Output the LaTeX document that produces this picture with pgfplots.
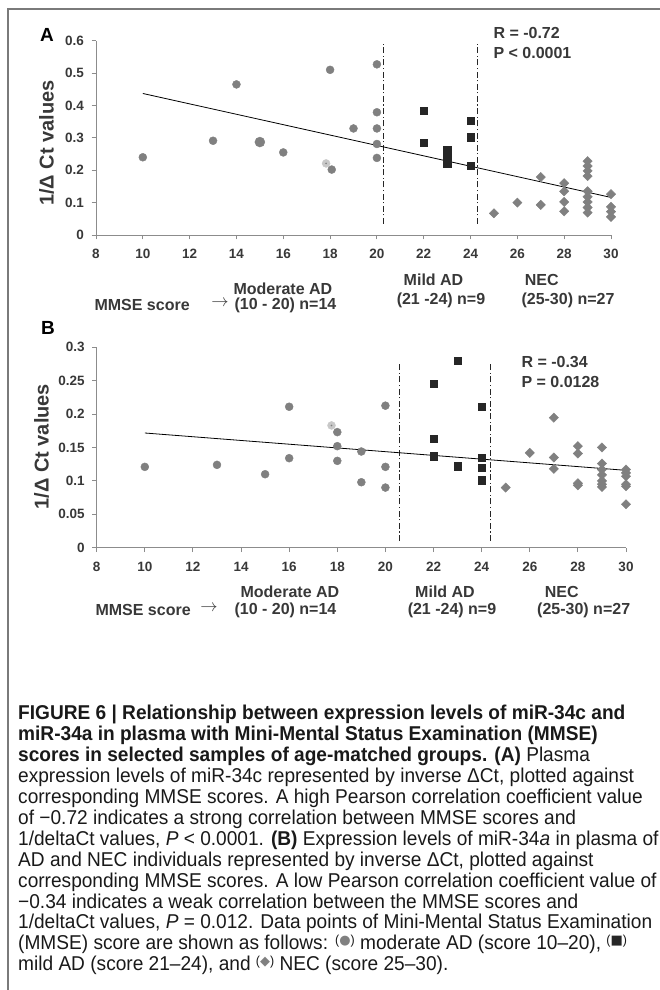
\documentclass[border=0pt]{standalone}
\usepackage{pgfplots}
\pgfplotsset{compat=1.18}
\usepackage{fontspec}
\setmainfont{Liberation Sans}
\newfontfamily\symfont{DejaVu Sans}
\newfontfamily\capfont[FakeStretch=0.955]{Liberation Sans}
\definecolor{ptgray}{HTML}{808080}
\definecolor{sqblack}{HTML}{262626}
\definecolor{axgray}{HTML}{8C8C8C}
\definecolor{txt}{HTML}{383838}
\definecolor{lightpt}{HTML}{C8C8C8}
\definecolor{framegray}{HTML}{7A7A7A}
\pgfplotsset{
  myaxis/.style={
    scale only axis, anchor=south west,
    xmin=8, xmax=30, xtick={8,10,...,30},
    axis x line*=bottom, axis y line*=left,
    axis line style={-, axgray, line width=0.9pt},
    tick style={axgray, line width=0.9pt},
    tick align=outside, major tick length=4.5pt,
    tick label style={font=\fontsize{13.5}{14}\selectfont\bfseries, text=txt},
    xticklabel style={yshift=-6pt},
    yticklabel style={xshift=-4pt},
    /pgf/number format/assume math mode=true,
    /pgf/number format/fixed, /pgf/number format/precision=2,
    clip=false,
  },
  circ/.style={only marks, mark=*, mark size=4pt, mark options={fill=ptgray, draw=ptgray}},
  lcirc/.style={only marks, mark=*, mark size=4pt, mark options={fill=lightpt, draw=lightpt}},
  sq/.style={only marks, mark=square*, mark size=3.6pt, mark options={fill=sqblack, draw=sqblack}},
  dia/.style={only marks, mark=square*, mark size=3.3pt, mark options={fill=ptgray, draw=ptgray, rotate=45}},
  trend/.style={black, line width=0.8pt, no marks},
  ddot/.style={black!85, line width=0.9pt, no marks, dash pattern=on 6pt off 2.5pt on 1.2pt off 2.5pt},
}
\newcommand{\lab}{\fontsize{16}{18}\selectfont\bfseries}
\newcommand{\caplinefont}{\capfont\fontsize{20}{22}\selectfont}
\begin{document}
\begin{tikzpicture}
\useasboundingbox (0pt,0pt) rectangle (660pt,990pt);
\draw[framegray, line width=1.5pt] (8pt,0pt) -- (8pt,981pt) -- (662pt,981pt);

% ---------------- Panel A ----------------
\begin{axis}[myaxis, at={(96pt,755pt)}, width=515pt, height=194.3pt,
  ymin=0, ymax=0.6, ytick={0,0.1,0.2,0.3,0.4,0.5,0.6}]
\addplot[ddot] coordinates {(20.29,0.034) (20.29,0.59)};
\addplot[ddot] coordinates {(24.30,0.034) (24.30,0.59)};
\addplot[trend] coordinates {(10,0.437) (30,0.116)};
\addplot[circ] coordinates {(10,0.240) (13,0.291) (14,0.465) (16,0.255) (18.07,0.202) (18,0.510) (19,0.329)
  (20,0.527) (20,0.379) (20,0.329) (20,0.281) (20,0.238)};
\addplot[only marks, mark=*, mark size=5pt, mark options={fill=ptgray, draw=ptgray}] coordinates {(15,0.287)};
\addplot[lcirc] coordinates {(17.83,0.221)};
\addplot[only marks, mark=*, mark size=0.6pt, mark options={fill=ptgray, draw=ptgray}] coordinates {(17.83,0.221)};
\addplot[sq] coordinates {(22,0.383) (22,0.286) (23,0.263) (23,0.249) (23,0.234) (23,0.219)
  (24,0.354) (24,0.302) (24,0.213)};
\addplot[dia] coordinates {(25,0.067) (26,0.100) (27,0.179) (27,0.093)
  (28,0.160) (28,0.135) (28,0.102) (28,0.073)
  (29,0.228) (29,0.213) (29,0.198) (29,0.182)
  (29,0.135) (29,0.118) (29,0.102) (29,0.085) (29,0.069)
  (30,0.126) (30,0.087) (30,0.072) (30,0.056)};
\end{axis}

\node[font=\fontsize{19}{20}\selectfont\bfseries] at (47pt,955pt) {A};
\node[rotate=90, font=\fontsize{20}{22}\selectfont\bfseries, text=txt] at (46.7pt,847pt) {1/Δ Ct values};
\node[anchor=west, font=\lab, text=txt] at (490pt,957pt) {R = -0.72};
\node[anchor=west, font=\lab, text=txt] at (490pt,937pt) {P < 0.0001};
\node[anchor=west, font=\lab, text=txt] at (230pt,701pt) {Moderate AD};
\node[anchor=west, font=\lab, text=txt] at (91pt,685pt) {MMSE score};
\node[font=\fontsize{16}{18}\selectfont, text=txt] at (220pt,687pt) {$\rightarrow$};
\node[anchor=west, font=\lab, text=txt] at (231pt,685pt) {(10 - 20) n=14};
\node[font=\lab, text=txt] at (433.5pt,710pt) {Mild AD};
\node[font=\lab, text=txt] at (441pt,690pt) {(21 -24) n=9};
\node[font=\lab, text=txt] at (541.7pt,710pt) {NEC};
\node[font=\lab, text=txt] at (568pt,690pt) {(25-30) n=27};

% ---------------- Panel B ----------------
\begin{axis}[myaxis, at={(96.7pt,442.3pt)}, width=529.3pt, height=200.4pt,
  ymin=0, ymax=0.3, ytick={0,0.05,0.1,0.15,0.2,0.25,0.3}]
\addplot[ddot] coordinates {(20.58,0.010) (20.58,0.2775)};
\addplot[ddot] coordinates {(24.37,0.010) (24.37,0.2775)};
\addplot[trend] coordinates {(10,0.1717) (30,0.1158)};
\addplot[circ] coordinates {(10,0.121) (13,0.124) (15,0.110) (16,0.211) (16,0.134)
  (18,0.173) (18,0.152) (18,0.130) (19,0.144) (19,0.098)
  (20,0.2126) (20,0.121) (20,0.090)};
\addplot[lcirc] coordinates {(17.76,0.183)};
\addplot[only marks, mark=*, mark size=0.6pt, mark options={fill=ptgray, draw=ptgray}] coordinates {(17.76,0.183)};
\addplot[sq] coordinates {(23,0.2805) (22,0.245) (22,0.1627) (22,0.137) (23,0.122)
  (24,0.2116) (24,0.135) (24,0.120) (24,0.101)};
\addplot[dia] coordinates {(25,0.090) (26,0.142) (27,0.1947) (27,0.135) (27,0.118)
  (28,0.152) (28,0.141) (28,0.0964) (28,0.0934)
  (29,0.150) (29,0.126) (29,0.117) (29,0.109) (29,0.100) (29,0.095) (29,0.091)
  (30,0.117) (30,0.112) (30,0.107) (30,0.095) (30,0.092) (30,0.065)};
\end{axis}

\node[font=\fontsize{19}{20}\selectfont\bfseries] at (48pt,662pt) {B};
\node[rotate=90, font=\fontsize{20}{22}\selectfont\bfseries, text=txt] at (41.7pt,543.3pt) {1/Δ Ct values};
\node[anchor=west, font=\lab, text=txt] at (518pt,628.3pt) {R = -0.34};
\node[anchor=west, font=\lab, text=txt] at (518pt,608.3pt) {P = 0.0128};
\node[anchor=west, font=\lab, text=txt] at (237pt,398.3pt) {Moderate AD};
\node[anchor=west, font=\lab, text=txt] at (92pt,380pt) {MMSE score};
\node[font=\fontsize{16}{18}\selectfont, text=txt] at (209pt,382pt) {$\rightarrow$};
\node[anchor=west, font=\lab, text=txt] at (231pt,380pt) {(10 - 20) n=14};
\node[font=\lab, text=txt] at (445pt,398.3pt) {Mild AD};
\node[font=\lab, text=txt] at (452pt,380pt) {(21 -24) n=9};
\node[font=\lab, text=txt] at (561.7pt,398.3pt) {NEC};
\node[font=\lab, text=txt] at (583.7pt,380pt) {(25-30) n=27};

% ---------------- Caption ----------------
\newcommand{\sym}[2]{\raisebox{0.5ex}{\fontsize{13}{13}\selectfont(\textcolor{#1}{\symfont #2})}}
\begin{scope}[every node/.style={anchor=base west, inner sep=0pt, font=\caplinefont, text=black!90}]
\node at (18pt,270pt) {\textbf{FIGURE 6 | Relationship between expression levels of miR-34c and}};
\node at (18pt,249.1pt) {\textbf{miR-34a in plasma with Mini-Mental Status Examination (MMSE)}};
\node at (18pt,228.2pt) {\textbf{scores in selected samples of age-matched groups. (A)} Plasma};
\node at (18pt,207.3pt) {expression levels of miR-34c represented by inverse ΔCt, plotted against};
\node at (18pt,186.4pt) {corresponding MMSE scores. A high Pearson correlation coefficient value};
\node at (18pt,165.5pt) {of −0.72 indicates a strong correlation between MMSE scores and};
\node at (18pt,144.6pt) {1/deltaCt values, \textit{P} < 0.0001. \textbf{(B)} Expression levels of miR-34\textit{a} in plasma of};
\node at (18pt,123.7pt) {AD and NEC individuals represented by inverse ΔCt, plotted against};
\node at (18pt,102.8pt) {corresponding MMSE scores. A low Pearson correlation coefficient value of};
\node at (18pt,81.9pt) {−0.34 indicates a weak correlation between the MMSE scores and};
\node at (18pt,61pt) {1/deltaCt values, \textit{P} = 0.012. Data points of Mini-Mental Status Examination};
\node at (18pt,40.1pt) {(MMSE) score are shown as follows: \sym{ptgray}{●} moderate AD (score 10–20), \sym{sqblack}{■}};
\node at (18pt,19.2pt) {mild AD (score 21–24), and \sym{ptgray}{◆} NEC (score 25–30).};
\end{scope}
\end{tikzpicture}
\end{document}
